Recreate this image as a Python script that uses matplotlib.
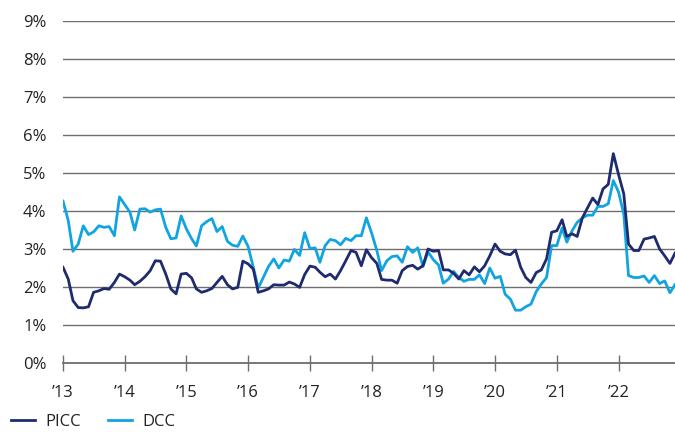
import numpy as np
import pandas as pd
import matplotlib
matplotlib.use("Agg")
import matplotlib.pyplot as plt

months = pd.date_range("2013-01-01", periods=120, freq="MS")

picc = [2.52, 2.21, 1.64, 1.46, 1.45, 1.48, 1.86, 1.90, 1.96, 1.94, 2.12, 2.34,
        2.27, 2.18, 2.06, 2.15, 2.27, 2.43, 2.69, 2.68, 2.34, 1.95, 1.82, 2.34,
        2.36, 2.24, 1.95, 1.86, 1.90, 1.96, 2.12, 2.28, 2.06, 1.95, 1.99, 2.68,
        2.61, 2.47, 1.86, 1.90, 1.95, 2.06, 2.05, 2.05, 2.13, 2.08, 1.99, 2.33,
        2.55, 2.52, 2.39, 2.27, 2.34, 2.21, 2.43, 2.69, 2.96, 2.91, 2.56, 2.98,
        2.77, 2.62, 2.20, 2.18, 2.18, 2.10, 2.43, 2.54, 2.57, 2.47, 2.56, 3.00,
        2.94, 2.96, 2.45, 2.45, 2.36, 2.21, 2.43, 2.32, 2.53, 2.40, 2.56, 2.82,
        3.13, 2.94, 2.87, 2.85, 2.97, 2.52, 2.25, 2.12, 2.38, 2.45, 2.74, 3.44,
        3.48, 3.77, 3.33, 3.40, 3.33, 3.82, 4.08, 4.34, 4.17, 4.58, 4.70, 5.51,
        4.96, 4.45, 3.13, 2.96, 2.96, 3.26, 3.29, 3.33, 3.00, 2.82, 2.62, 2.89]

dcc = [4.26, 3.75, 2.94, 3.13, 3.61, 3.38, 3.45, 3.61, 3.57, 3.59, 3.35, 4.37,
       4.17, 3.97, 3.50, 4.05, 4.06, 3.97, 4.03, 4.05, 3.57, 3.27, 3.29, 3.87,
       3.53, 3.27, 3.08, 3.61, 3.72, 3.80, 3.46, 3.59, 3.20, 3.10, 3.07, 3.34,
       3.07, 2.52, 1.97, 2.26, 2.54, 2.74, 2.50, 2.71, 2.68, 2.99, 2.83, 3.43,
       3.01, 3.03, 2.65, 3.09, 3.25, 3.22, 3.11, 3.28, 3.22, 3.35, 3.35, 3.82,
       3.42, 2.96, 2.43, 2.69, 2.80, 2.82, 2.65, 3.06, 2.91, 3.03, 2.54, 2.92,
       2.72, 2.58, 2.10, 2.21, 2.41, 2.25, 2.15, 2.20, 2.20, 2.32, 2.09, 2.50,
       2.23, 2.28, 1.81, 1.68, 1.39, 1.39, 1.48, 1.55, 1.88, 2.08, 2.25, 3.09,
       3.09, 3.55, 3.18, 3.48, 3.70, 3.82, 3.89, 3.89, 4.12, 4.12, 4.19, 4.80,
       4.50, 3.92, 2.30, 2.25, 2.25, 2.29, 2.12, 2.30, 2.09, 2.16, 1.85, 2.06]

year_ticks = pd.date_range("2013-01-01", "2022-01-01", freq="YS")
year_labels = ["\u2019" + str(y)[2:] for y in year_ticks.year]
y_ticks = list(range(0, 10))
y_labels = [f"{v}%" for v in y_ticks]

plt.rcParams["font.family"] = ["Open Sans", "DejaVu Sans"]

fig = plt.figure(figsize=(6.75, 4.32), dpi=100)
ax = fig.add_axes([63 / 675, 69 / 432, 612 / 675, 342 / 432])

ax.plot(months, picc, color="#1f2b6e", lw=2, label="PICC", zorder=3)
ax.plot(months, dcc, color="#12a4e0", lw=2, label="DCC", zorder=2)

ax.set_xlim(months[0], months[-1])
ax.set_ylim(0, 9)
ax.set_yticks(y_ticks)
ax.set_yticklabels(y_labels)
ax.set_xticks(year_ticks)
ax.set_xticklabels(year_labels)

ax.grid(axis="y", color="#6e6e6e", lw=1)
ax.set_axisbelow(True)
for s in ["top", "right", "left"]:
    ax.spines[s].set_visible(False)
ax.spines["bottom"].set_color("#6e6e6e")
ax.spines["bottom"].set_linewidth(1.3)

ax.tick_params(axis="y", length=0, pad=12, labelsize=12, labelcolor="#222222")
ax.tick_params(axis="x", direction="inout", length=11, width=1, color="#6e6e6e",
               pad=10, labelsize=12, labelcolor="#222222")

fig.legend(loc="lower left", bbox_to_anchor=(-0.006, -0.03), ncol=2, frameon=False,
           fontsize=12, handlelength=1.45, columnspacing=1.65, handletextpad=0.6,
           labelcolor="#222222")

fig.savefig("out.png", dpi=100)
